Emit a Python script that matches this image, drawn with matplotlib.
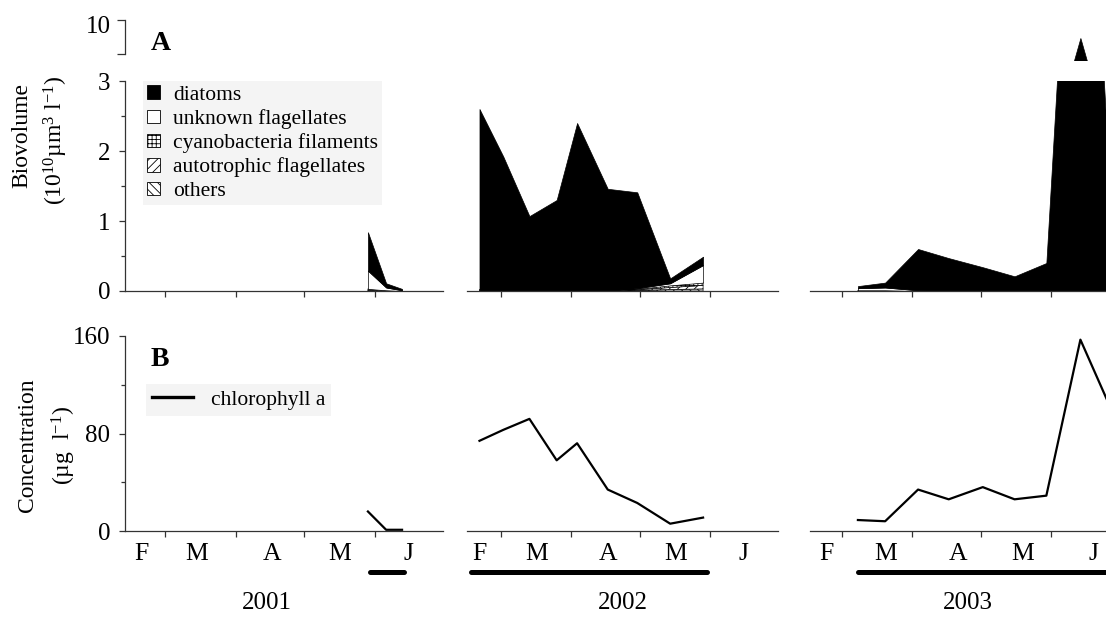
import numpy as np
import matplotlib
matplotlib.use('Agg')
import matplotlib.pyplot as plt
from matplotlib.patches import Patch
from matplotlib.lines import Line2D

plt.rcParams['font.family'] = ['Liberation Serif', 'DejaVu Serif']
plt.rcParams['mathtext.fontset'] = 'custom'
plt.rcParams['mathtext.rm'] = 'Liberation Serif'
plt.rcParams['mathtext.default'] = 'regular'
plt.rcParams['hatch.linewidth'] = 0.6

W, H = 1106, 619

# sampling days, counted from 1 February of each year
years = ['2001', '2002', '2003']
days_2001 = [117, 125, 132]
days_2002 = [18.5, 29, 40.5, 52.5, 61.5, 75, 88, 102.5, 117]
days_2003 = [35, 47, 61.5, 75, 90, 104, 118, 133, 147]

# biovolume (10^10 um3 l-1), per group
diatoms_2001 = [0.55, 0.06, 0.02]
unknown_2001 = [0.26, 0.04, 0.01]
cyano_2001 = [0.02, 0.01, 0.0]
auto_2001 = [0.01, 0.0, 0.0]
others_2001 = [0.0, 0.0, 0.0]

diatoms_2002 = [2.58, 1.91, 1.07, 1.30, 2.40, 1.45, 1.37, 0.07, 0.12]
unknown_2002 = [0.0, 0.0, 0.0, 0.0, 0.0, 0.0, 0.01, 0.03, 0.25]
cyano_2002 = [0.02, 0.01, 0.0, 0.0, 0.0, 0.01, 0.01, 0.03, 0.04]
auto_2002 = [0.0, 0.0, 0.0, 0.0, 0.0, 0.0, 0.01, 0.03, 0.05]
others_2002 = [0.0, 0.0, 0.0, 0.0, 0.0, 0.0, 0.01, 0.02, 0.03]

diatoms_2003 = [0.03, 0.07, 0.59, 0.47, 0.34, 0.21, 0.40, 8.74, 0.95]
unknown_2003 = [0.03, 0.04, 0.01, 0.0, 0.0, 0.0, 0.0, 0.0, 0.0]
cyano_2003 = [0.01, 0.01, 0.0, 0.0, 0.0, 0.0, 0.0, 0.0, 0.0]
auto_2003 = [0.0, 0.0, 0.0, 0.0, 0.0, 0.0, 0.0, 0.0, 0.0]
others_2003 = [0.0, 0.0, 0.0, 0.0, 0.0, 0.0, 0.0, 0.0, 0.0]

# chlorophyll a (ug l-1)
chl_2001 = [16, 1, 1]
chl_2002 = [74, 83, 92, 58, 72, 34, 23, 6, 11]
chl_2003 = [9, 8, 34, 26, 36, 26, 29, 157, 98]

# sampling period bars (days)
bar_2001 = [118, 133]
bar_2002 = [14.8, 118.8]
bar_2003 = [35, 150]

month_labels = ['F', 'M', 'A', 'M', 'J']
month_bounds = [28, 59, 89, 120]
month_pos_2001 = [17.5, 41.7, 74.7, 104.6, 134.7]
month_pos_2002 = [18.3, 43.9, 75.2, 105, 134.7]
month_pos_2003 = [21.3, 47.4, 79.1, 107.7, 138.6]

group_labels = ['diatoms', 'unknown flagellates', 'cyanobacteria filaments',
                'autotrophic flagellates', 'others']

data = {
    '2001': (days_2001, [others_2001, auto_2001, cyano_2001, unknown_2001, diatoms_2001],
             chl_2001, bar_2001, month_pos_2001),
    '2002': (days_2002, [others_2002, auto_2002, cyano_2002, unknown_2002, diatoms_2002],
             chl_2002, bar_2002, month_pos_2002),
    '2003': (days_2003, [others_2003, auto_2003, cyano_2003, unknown_2003, diatoms_2003],
             chl_2003, bar_2003, month_pos_2003),
}
# pixel extent of each year block and first day shown
span = {'2001': (125, 443, 10.2), '2002': (467, 778, 13.0), '2003': (810, 1119, 13.9)}
year_x = {'2001': 267, '2002': 623, '2003': 968}

# bottom -> top stacking styles
styles = [('white', '\\\\\\\\'), ('white', '////'), ('white', '++++'),
          ('white', None), ('black', None)]

AXC = '#333333'


def box(x0, x1, ytop, ybot):
    return [x0 / W, 1 - ybot / H, (x1 - x0) / W, (ybot - ytop) / H]


fig = plt.figure(figsize=(W / 100, H / 100), dpi=100)

for yr in years:
    days, layers, chl, bar, mpos = data[yr]
    x0, x1, start = span[yr]
    axA = fig.add_axes(box(x0, x1, 81, 291))
    axU = fig.add_axes(box(x0, x1, 20, 60))
    axB = fig.add_axes(box(x0, x1, 336, 531))

    d = np.array(days, dtype=float)
    base = np.zeros(len(d))
    for vals, (fc, hatch) in zip(layers, styles):
        top = base + np.array(vals)
        for ax in (axA, axU):
            ax.fill_between(d, base, top, facecolor=fc, edgecolor='black',
                            hatch=hatch, linewidth=0.5)
        base = top

    axB.plot(d, chl, color='black', lw=1.6)

    axA.set_ylim(0, 3)
    axU.set_ylim(7.2, 10)
    axB.set_ylim(0, 160)
    for ax in (axA, axU, axB):
        ax.set_xlim(start, 150)
        for s in ('top', 'right'):
            ax.spines[s].set_visible(False)
        for s in ('left', 'bottom'):
            ax.spines[s].set_color(AXC)
            ax.spines[s].set_linewidth(0.9)

    for ax in (axA, axB):
        ax.set_xticks(month_bounds)
        ax.set_xticklabels([])
        ax.tick_params(axis='x', which='major', direction='out', length=4,
                       width=0.9, color=AXC)
    axB.set_xticks(mpos, month_labels, minor=True)
    axB.tick_params(axis='x', which='minor', length=0, pad=9, labelsize=18.5)

    axU.spines['bottom'].set_visible(False)
    axU.set_xticks([])

    if yr == '2001':
        axA.set_yticks([0, 1, 2, 3])
        axA.set_yticks([0.5, 1.5, 2.5], minor=True)
        axB.set_yticks([0, 80, 160])
        axB.set_yticks([40, 120], minor=True)
        for ax in (axA, axB):
            ax.tick_params(axis='y', which='major', direction='out', length=4.5,
                           width=0.9, color=AXC, labelsize=18, pad=6)
            ax.tick_params(axis='y', which='minor', direction='out', length=3,
                           width=0.9, color=AXC)
        axU.spines['left'].set_bounds(7.62, 10)
        axU.set_yticks([7.62, 10])
        axU.set_yticklabels([])
        axU.tick_params(axis='y', direction='out', length=6, width=0.9, color=AXC)

        axA.legend(
            [Patch(facecolor=fc, edgecolor='black', hatch=h, linewidth=0.6)
             for fc, h in styles[::-1]],
            group_labels, loc='upper left',
            bbox_to_anchor=(143 / W, 1 - 81 / H), bbox_transform=fig.transFigure,
            frameon=True, facecolor='#f4f4f4', edgecolor='none', framealpha=1,
            fancybox=False, fontsize=15.5, handlelength=0.6, handleheight=0.6,
            handletextpad=0.6, labelspacing=0.2, borderpad=0.2, borderaxespad=0)
        axB.legend(
            [Line2D([0], [0], color='black', lw=2.4)], ['chlorophyll a'],
            loc='center left', bbox_to_anchor=(146 / W, 1 - 400 / H),
            bbox_transform=fig.transFigure, frameon=True, facecolor='#f4f4f4',
            edgecolor='none', framealpha=1, fancybox=False, fontsize=15.5,
            handlelength=1.9, handletextpad=0.8, borderpad=0.3, borderaxespad=0)
    else:
        for ax in (axA, axB):
            ax.spines['left'].set_visible(False)
            ax.set_yticks([])
        axU.spines['left'].set_visible(False)
        axU.set_yticks([])

    axB.plot(bar, [-0.21, -0.21], transform=axB.get_xaxis_transform(),
             color='black', lw=3.6, solid_capstyle='round', clip_on=False)
    fig.text(year_x[yr] / W, 1 - 603 / H, yr, ha='center', va='center', fontsize=18)

fig.text(98 / W, 1 - 27 / H, '10', ha='center', va='center', fontsize=18)
fig.text(161 / W, 1 - 43 / H, 'A', ha='center', va='center', fontsize=20,
         fontweight='bold')
fig.text(160 / W, 1 - 359 / H, 'B', ha='center', va='center', fontsize=20,
         fontweight='bold')

fig.text(22 / W, 1 - 136 / H, 'Biovolume', rotation=90, ha='center', va='center',
         fontsize=17)
fig.text(56 / W, 1 - 140 / H, '(10$^{10}$µm$^{3}$ l$^{-1}$)', rotation=90,
         ha='center', va='center', fontsize=17)
fig.text(28 / W, 1 - 445 / H, 'Concentration', rotation=90, ha='center',
         va='center', fontsize=17)
fig.text(64 / W, 1 - 446 / H, '(µg  l$^{-1}$)', rotation=90, ha='center',
         va='center', fontsize=17)

fig.savefig('out.png', dpi=100)
